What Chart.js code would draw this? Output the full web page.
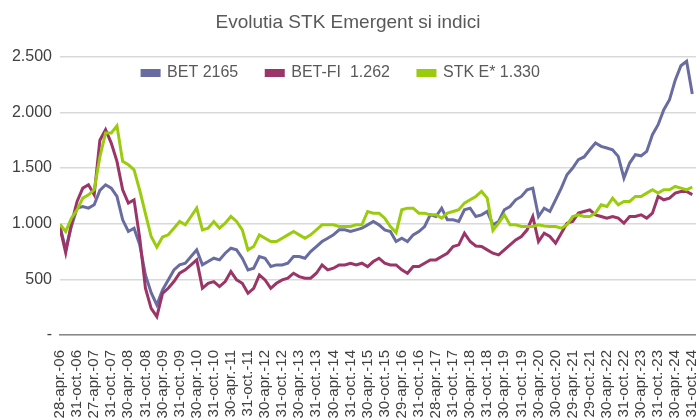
<!DOCTYPE html>
<html>
<head>
<meta charset="utf-8">
<script src="https://cdn.jsdelivr.net/npm/chart.js@4.4.1/dist/chart.umd.min.js"></script>
<style>
  html, body { margin: 0; padding: 0; background: #fff; }
  #wrap { width: 696px; height: 419px; }
</style>
</head>
<body>
<div id="wrap"><canvas id="canvas1"></canvas></div>
<script>
// semi-annual tick labels (one every 6 months)
var tickLabels = ['28-apr.-06','31-oct.-06','27-apr.-07','31-oct.-07','30-apr.-08','31-oct.-08',
    '30-apr.-09','31-oct.-09','30-apr.-10','31-oct.-10','30-apr.-11','31-oct.-11',
    '30-apr.-12','31-oct.-12','30-apr.-13','31-oct.-13','30-apr.-14','31-oct.-14',
    '30-apr.-15','30-oct.-15','29-apr.-16','31-oct.-16','28-apr.-17','31-oct.-17',
    '30-apr.-18','31-oct.-18','30-apr.-19','31-oct.-19','30-apr.-20','30-oct.-20',
    '29-apr.-21','29-oct.-21','30-apr.-22','31-oct.-22','30-apr.-23','31-oct.-23',
    '30-apr.-24','31-oct.-24'];

var seriesNames = ['BET 2165', 'BET-FI  1.262', 'STK E* 1.330'];

// one value every 2 months, starting apr 2006
var bet = [975,770,975,1140,1155,1140,1170,1300,1350,1320,1245,1035,930,960,810,540,380,270,405,495,
    585,630,645,705,765,630,660,690,675,735,780,765,690,585,600,705,690,615,630,630,
    645,705,705,690,750,795,840,870,900,945,945,930,945,960,990,1020,990,945,930,840,
    870,840,900,930,975,1080,1065,1140,1035,1035,1020,1125,1140,1065,1080,1110,990,1020,1125,1155,
    1215,1245,1305,1320,1065,1140,1110,1215,1320,1440,1500,1575,1600,1665,1725,1695,1680,1665,1605,1410,
    1545,1620,1610,1650,1800,1890,2025,2115,2290,2420,2460,2165];

var betfi = [965,740,1000,1200,1320,1350,1260,1750,1845,1725,1560,1305,1185,1215,870,420,240,165,375,420,
    480,555,585,630,675,420,465,480,435,480,570,495,465,375,420,540,495,420,465,495,
    510,555,525,510,510,555,630,585,600,630,630,645,630,645,615,660,690,645,630,630,
    585,555,615,615,645,675,675,705,735,795,810,915,840,800,795,765,735,720,765,810,
    855,885,945,1065,840,915,885,825,915,1005,1020,1095,1110,1125,1080,1065,1050,1065,1050,1005,
    1065,1065,1080,1050,1095,1245,1215,1230,1275,1290,1290,1262];

var stk = [995,930,1050,1125,1230,1260,1305,1600,1815,1815,1880,1560,1530,1485,1300,1090,885,790,880,900,
    960,1020,990,1065,1140,945,960,1020,960,1005,1065,1020,945,765,795,900,870,840,840,870,
    900,930,900,870,900,945,990,990,990,975,975,975,990,990,1110,1095,1095,1050,975,920,
    1125,1140,1140,1095,1095,1080,1080,1050,1095,1110,1125,1185,1215,1245,1290,1230,940,1005,1080,990,
    990,975,975,975,990,980,975,975,960,990,1065,1080,1065,1065,1095,1170,1155,1230,1170,1200,
    1200,1245,1245,1275,1305,1275,1305,1305,1335,1320,1305,1330];

var colors = ['#686ca1', '#9b3467', '#9acc0d'];

function toPoints(arr) {
    var pts = [];
    for (var i = 0; i < arr.length; i++) {
        pts.push({x: i * 2, y: arr[i]});
    }
    return pts;
}

function fmt(v) {
    if (v === 0) return '-';
    return String(v).replace(/\B(?=(\d{3})+(?!\d))/g, '.');
}

// legend takes no room (maxHeight tiny) - put it over the top of the plot like the original
var legendNudge = {
    id: 'legendNudge',
    afterLayout: function(chart) {
        var lg = chart.legend;
        lg.top = 37;
        lg.bottom = 110;
        lg.left -= 7;
        lg.right -= 7;
    }
};

var fontFam = '"Liberation Sans", Arial, sans-serif';
var series = [bet, betfi, stk];
var datasets = [];
for (var s = 0; s < series.length; s++) {
    datasets.push({
        label: seriesNames[s],
        data: toPoints(series[s]),
        borderColor: colors[s],
        backgroundColor: colors[s],
        borderWidth: 3,
        pointRadius: 0,
        tension: 0,
        order: 2 - s
    });
}

var ctx = document.getElementById('canvas1');
var chart = new Chart(ctx, {
    type: 'line',
    data: { datasets: datasets },
    plugins: [legendNudge],
    options: {
        responsive: true,
        maintainAspectRatio: false,
        animation: false,
        layout: { padding: 0 },
        plugins: {
            title: {
                display: true,
                text: 'Evolutia STK Emergent si indici',
                color: '#595959',
                font: { family: fontFam, size: 19, weight: 'normal' },
                padding: { top: 11, bottom: 23 }
            },
            legend: {
                position: 'top',
                align: 'center',
                maxHeight: 0.001,
                labels: {
                    boxWidth: 17,
                    boxHeight: 5,
                    padding: 28,
                    color: '#595959',
                    font: { family: fontFam, size: 16 },
                    sort: function(a, b) { return a.datasetIndex - b.datasetIndex; }
                }
            },
            tooltip: { enabled: false }
        },
        scales: {
            x: {
                type: 'linear',
                min: 0,
                max: 223.3,
                grid: { display: false },
                border: { display: true, color: '#898989', width: 1.5 },
                ticks: {
                    stepSize: 6,
                    includeBounds: false,
                    autoSkip: false,
                    minRotation: 90,
                    maxRotation: 90,
                    padding: 7,
                    color: '#404040',
                    font: { family: fontFam, size: 15 },
                    callback: function(v) {
                        var k = Math.round(v / 6);
                        return tickLabels[k] || '';
                    }
                },
                afterFit: function(scale) {
                    scale.height = 84;
                    scale.paddingLeft = 0;
                    scale.paddingRight = 0;
                }
            },
            y: {
                min: 0,
                max: 2500,
                grid: { color: '#d9d9d9', lineWidth: 1.5, drawTicks: false },
                border: { display: false },
                ticks: {
                    stepSize: 500,
                    padding: 8,
                    color: '#404040',
                    font: { family: fontFam, size: 16 },
                    callback: function(v) { return fmt(v); }
                },
                afterFit: function(scale) {
                    scale.width = 60;
                }
            }
        }
    }
});
</script>
</body>
</html>
